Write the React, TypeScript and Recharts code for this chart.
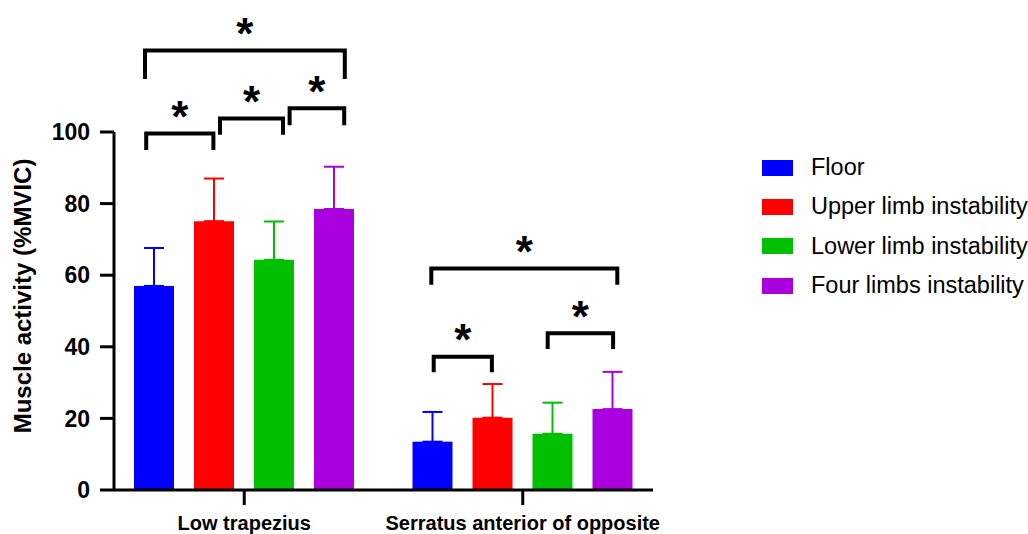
import React from 'react';
import { BarChart, Bar, XAxis, YAxis, ErrorBar, Legend } from 'recharts';

const categories = ['Low trapezius', 'Serratus anterior of opposite'];
const seriesNames = ['Floor', 'Upper limb instability', 'Lower limb instability', 'Four limbs instability'];
const floor = [57.0, 13.5];
const upper = [75.1, 20.2];
const lower = [64.3, 15.7];
const four = [78.5, 22.6];
const floorSd = [10.6, 8.3];
const upperSd = [11.9, 9.4];
const lowerSd = [10.7, 8.7];
const fourSd = [11.8, 10.4];
const yTicks = [0, 20, 40, 60, 80, 100];

// significance brackets: group, span in bar slots, top and leg end in %MVIC
const brackets = [
  { group: 0, from: -0.15, to: 3.18, top: 122.8, bottom: 114.8 },
  { group: 0, from: -0.13, to: 0.99, top: 99.6, bottom: 95.0 },
  { group: 0, from: 1.1, to: 2.15, top: 103.8, bottom: 99.2 },
  { group: 0, from: 2.26, to: 3.17, top: 106.6, bottom: 101.9 },
  { group: 1, from: -0.02, to: 3.08, top: 61.9, bottom: 57.3 },
  { group: 1, from: 0.02, to: 0.99, top: 37.2, bottom: 32.9 },
  { group: 1, from: 1.92, to: 3.01, top: 43.8, bottom: 39.4 },
];

const BLUE = '#0000ff';
const RED = '#ff0000';
const GREEN = '#00c000';
const PURPLE = '#aa00dd';
const FONT = '"Liberation Sans", Arial, sans-serif';
const BAR_SIZE = 40;
const BAR_GAP = 20;
const STAR_SIZE = 44;

const data = categories.map((name, i) => ({
  name,
  floor: floor[i],
  upper: upper[i],
  lower: lower[i],
  four: four[i],
  floorErr: [0, floorSd[i]],
  upperErr: [0, upperSd[i]],
  lowerErr: [0, lowerSd[i]],
  fourErr: [0, fourSd[i]],
}));

// first bar of each group also carries that group's brackets
const FloorBar = (props: any) => {
  const { x, y, width, height, fill, payload } = props;
  const group = categories.indexOf(payload.name);
  const base = y + height;
  const unit = height / payload.floor;
  const toY = (v: number) => base - v * unit;
  const c0 = x + width / 2;
  const pitch = width + BAR_GAP;
  return (
    <g>
      <rect x={x} y={y} width={width} height={height} fill={fill} />
      {brackets
        .filter((b) => b.group === group)
        .map((b, k) => {
          const x1 = c0 + b.from * pitch;
          const x2 = c0 + b.to * pitch;
          const yt = toY(b.top);
          const yb = toY(b.bottom);
          return (
            <g key={k}>
              <path
                d={`M${x1},${yb} V${yt} H${x2} V${yb}`}
                fill="none"
                stroke="#000"
                strokeWidth={4}
                strokeLinejoin="miter"
              />
              <text
                x={(x1 + x2) / 2}
                y={yt - 26 + STAR_SIZE * 0.56}
                textAnchor="middle"
                fontFamily={FONT}
                fontWeight="bold"
                fontSize={STAR_SIZE}
                fill="#000"
              >
                *
              </text>
            </g>
          );
        })}
    </g>
  );
};

const LegendList = ({ payload }: any) => {
  const items = [...(payload || [])].sort(
    (a: any, b: any) => seriesNames.indexOf(a.value) - seriesNames.indexOf(b.value)
  );
  return (
    <div style={{ fontFamily: FONT, fontSize: 23.5, color: '#000', whiteSpace: 'nowrap' }}>
      {items.map((p: any) => (
        <div key={p.value} style={{ display: 'flex', alignItems: 'center', height: 39.3 }}>
          <span style={{ display: 'inline-block', width: 31, height: 16, background: p.color, marginRight: 18 }} />
          <span>{p.value}</span>
        </div>
      ))}
    </div>
  );
};

const YLabel = () => (
  <text
    x={22}
    y={296}
    transform="rotate(-90 22 296)"
    textAnchor="middle"
    dominantBaseline="central"
    fontFamily={FONT}
    fontWeight="bold"
    fontSize={24}
    fill="#000"
  >
    Muscle activity (%MVIC)
  </text>
);

export default function App() {
  const axisStyle = { stroke: '#000', strokeWidth: 3 };
  return (
    <div style={{ position: 'absolute', left: 0, top: 0, width: 1028, height: 534, overflow: 'hidden', background: '#fff' }}>
      <BarChart
        width={1028}
        height={534}
        data={data}
        margin={{ top: 132, right: 375, bottom: 0, left: 54 }}
        barSize={BAR_SIZE}
        barGap={BAR_GAP}
      >
        <XAxis
          dataKey="name"
          height={44}
          padding={{ left: -9, right: -9 }}
          interval={0}
          tickSize={15}
          tickMargin={11}
          axisLine={axisStyle}
          tickLine={axisStyle}
          tick={{ fill: '#000', fontSize: 20, fontWeight: 'bold', fontFamily: FONT }}
        />
        <YAxis
          width={60}
          domain={[0, 100]}
          ticks={yTicks}
          tickSize={14}
          tickMargin={10}
          axisLine={axisStyle}
          tickLine={axisStyle}
          tick={{ fill: '#000', fontSize: 23, fontWeight: 'bold', fontFamily: FONT }}
          label={{ content: <YLabel /> }}
        />
        <Legend
          layout="vertical"
          align="center"
          verticalAlign="middle"
          content={<LegendList />}
          wrapperStyle={{ left: 762, top: 148, width: 300 }}
        />
        <Bar dataKey="floor" name={seriesNames[0]} fill={BLUE} shape={FloorBar} isAnimationActive={false}>
          <ErrorBar dataKey="floorErr" width={10} stroke={BLUE} strokeWidth={2} direction="y" />
        </Bar>
        <Bar dataKey="upper" name={seriesNames[1]} fill={RED} isAnimationActive={false}>
          <ErrorBar dataKey="upperErr" width={10} stroke={RED} strokeWidth={2} direction="y" />
        </Bar>
        <Bar dataKey="lower" name={seriesNames[2]} fill={GREEN} isAnimationActive={false}>
          <ErrorBar dataKey="lowerErr" width={10} stroke={GREEN} strokeWidth={2} direction="y" />
        </Bar>
        <Bar dataKey="four" name={seriesNames[3]} fill={PURPLE} isAnimationActive={false}>
          <ErrorBar dataKey="fourErr" width={10} stroke={PURPLE} strokeWidth={2} direction="y" />
        </Bar>
      </BarChart>
    </div>
  );
}
